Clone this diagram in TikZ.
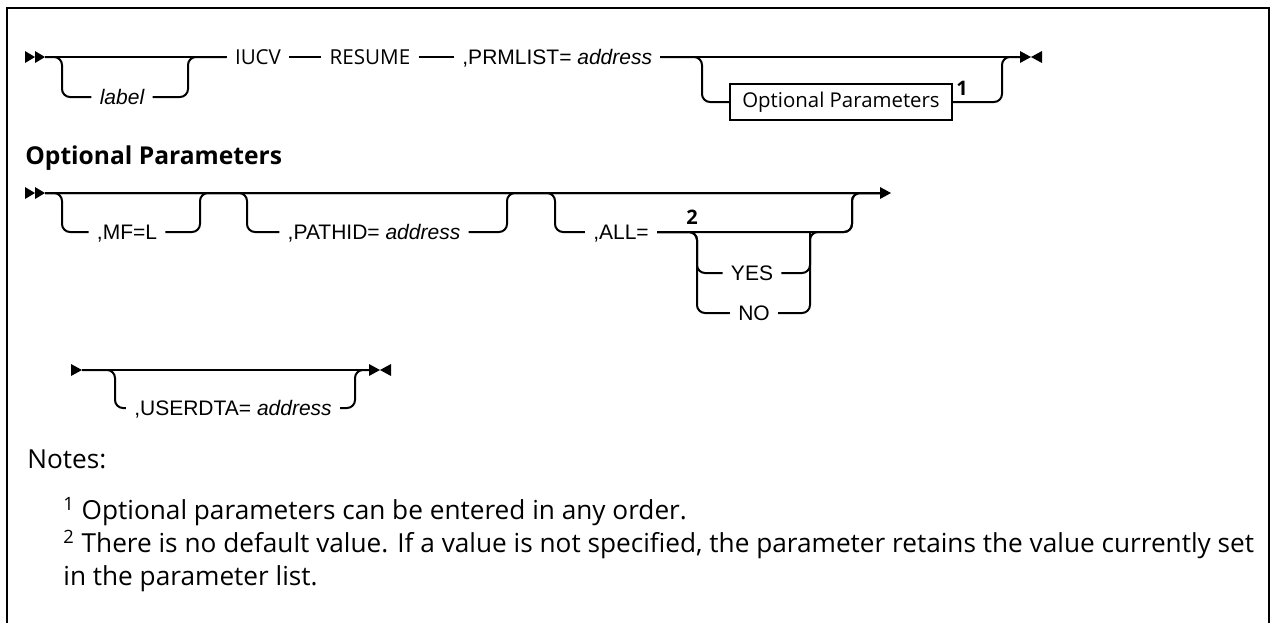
\documentclass[tikz,border=0pt]{standalone}
\usepackage{fontspec}
\setmainfont{Open Sans}
\newfontfamily\railfont{Liberation Sans}
\usetikzlibrary{positioning}

\tikzset{
  rail/.style={line width=1pt, rounded corners=4pt},
  kw/.style={font=\railfont\fontsize{10.5}{12}\selectfont, inner sep=4pt,
    text height=9.3pt, text depth=1.8pt},
  pl/.style={font=\fontsize{10.3}{12}\selectfont, inner sep=4pt,
    text height=9.3pt, text depth=1.8pt},
  optbox/.style={draw, line width=0.8pt, font=\fontsize{10.2}{12}\selectfont,
    minimum width=111pt, minimum height=18pt, inner sep=2pt},
  fnmark/.style={font=\bfseries\fontsize{10}{11}\selectfont, inner sep=0pt},
  note/.style={font=\fontsize{13.1}{15}\selectfont, inner sep=0pt, anchor=base west},
  pics/startmark/.style={code={
    \fill (0,-6) -- (10,0) -- (0,6) -- cycle;
    \fill (10,-6) -- (20,0) -- (10,6) -- cycle;}},
  pics/endmark/.style={code={
    \fill (0,-6) -- (11,0) -- (0,6) -- cycle;
    \fill (22,-6) -- (11,0) -- (22,6) -- cycle;}},
  pics/tipmark/.style={code={
    \fill (0,-6) -- (11,0) -- (0,6) -- cycle;}},
}

\begin{document}
\begin{tikzpicture}[x=0.5pt, y=-0.5pt]
\useasboundingbox (0,0) rectangle (1274,623);
\draw[line width=1pt] (7,623) -- (7,8) -- (1269,8) -- (1269,623);

% main statement
\pic at (25,57) {startmark};
\coordinate (s1) at (45,57);
\coordinate (b1) at (62,97);
\coordinate (j1) at (188,57);
\coordinate (b2) at (702,102);
\coordinate (j2) at (1002,57);
\coordinate (e1) at (1020,57);
\node[kw] (label) at (122,97) {\itshape label};
\node[pl] (iucv) at (258,57) {IUCV};
\node[pl] (resume) at (370,57) {RESUME};
\node[kw, anchor=west] (prm) at (454,57) {,PRMLIST= \textit{address}};
\node[optbox] (opt) at (841,102) {Optional Parameters};
\node[fnmark] (n1) at (962,88) {1};
\pic at (e1) {endmark};

\draw[rail] (s1) -- (iucv);
\draw[rail] (s1) -| (b1) -- (label);
\draw[rail] (label) -| (j1) -- (iucv);
\draw[rail] (iucv) -- (resume);
\draw[rail] (resume) -- (prm);
\draw[rail] (prm.east) -- (e1);
\draw[rail] (prm.east) -| (b2) -- (opt);
\draw[rail] (opt) -| (j2) -- (e1);

% optional parameters
\node[font=\bfseries\fontsize{12.3}{14}\selectfont, inner sep=0pt, anchor=base west] (title) at (25,164) {Optional Parameters};

\pic at (25,193) {startmark};
\coordinate (s2) at (45,193);
\coordinate (b3) at (62,232);
\coordinate (j3) at (200,193);
\coordinate (b4) at (247,232);
\coordinate (j4) at (507,193);
\coordinate (b5) at (555,232);
\coordinate (j5) at (852,193);
\coordinate (b6) at (697,273);
\coordinate (b7) at (697,313);
\coordinate (j6) at (810,232);
\coordinate (e2) at (880,193);
\node[kw] (mf) at (127,232) {,MF=L};
\node[kw] (pathid) at (374,232) {,PATHID= \textit{address}};
\node[kw] (all) at (621,232) {,ALL=};
\node[fnmark] (n2) at (692,217) {2};
\node[kw] (yes) at (752,273) {YES};
\node[kw] (no) at (754,313) {NO};
\pic at (e2) {tipmark};

\draw[rail] (s2) -- (e2);
\draw[rail] (s2) -| (b3) -- (mf);
\draw[rail] (mf) -| (j3) -- (e2);
\draw[rail] (s2) -| (b4) -- (pathid);
\draw[rail] (pathid) -| (j4) -- (e2);
\draw[rail] (s2) -| (b5) -- (all);
\draw[rail] (all) -| (j5) -- (e2);
\draw[rail] (all) -| (b6) -- (yes);
\draw[rail] (all) -| (b7) -- (no);
\draw[rail] (yes) -| (j6) -| (j5) -- (e2);
\draw[rail] (no) -| (j6);

% continuation
\pic at (71,370) {tipmark};
\coordinate (s3) at (82,370);
\coordinate (b8) at (115,408);
\coordinate (j8) at (355,370);
\coordinate (e3) at (369,370);
\node[kw] (user) at (233,408) {,USERDTA= \textit{address}};
\pic at (e3) {endmark};

\draw[rail] (s3) -- (e3);
\draw[rail] (s3) -| (b8) -- (user);
\draw[rail] (user) -| (j8) -- (e3);

% notes
\node[note] (notes) at (27,468) {Notes:};
\node[note] (note1) at (63,519) {\textsuperscript{1} Optional parameters can be entered in any order.};
\node[note] (note2) at (63,552) {\textsuperscript{2} There is no default value. If a value is not specified, the parameter retains the value currently set};
\node[note] (note3) at (63,585) {in the parameter list.};
\end{tikzpicture}
\end{document}
